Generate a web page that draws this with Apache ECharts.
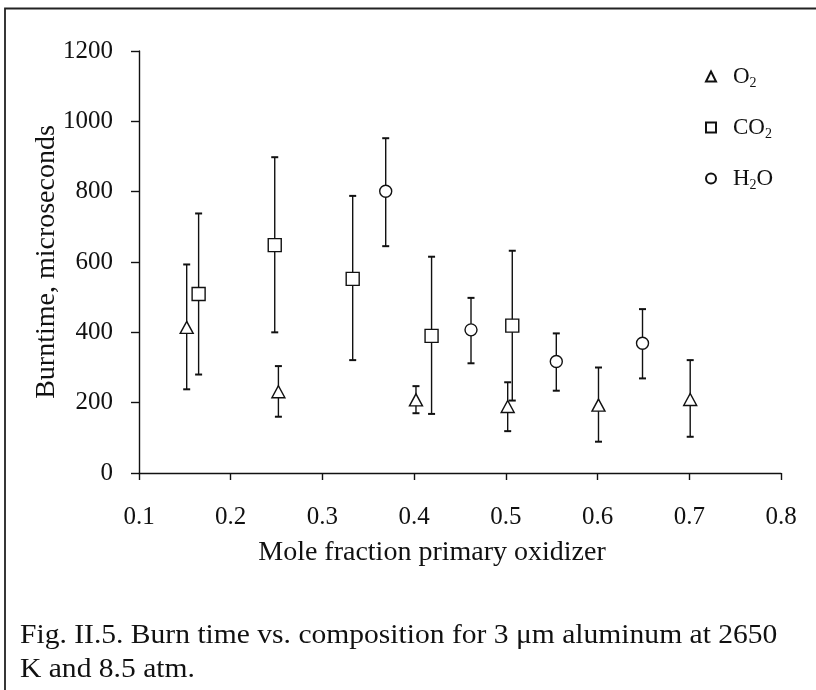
<!DOCTYPE html>
<html>
<head>
<meta charset="utf-8">
<script src="https://cdn.jsdelivr.net/npm/echarts@6/dist/echarts.min.js"></script>
<style>
html,body{margin:0;padding:0;background:#fff;}
#c{width:816px;height:690px;}
</style>
</head>
<body>
<div id="c"></div>
<script>
// ---- data ----
const xTicks = [0.1, 0.2, 0.3, 0.4, 0.5, 0.6, 0.7, 0.8];
const yTicks = [0, 200, 400, 600, 800, 1000, 1200];

const o2X  = [0.152, 0.252, 0.402, 0.502, 0.601, 0.701];
const o2Y  = [414, 231, 208, 189, 193, 209];
const o2Lo = [238, 160, 170, 119, 89, 103];
const o2Hi = [593, 304, 247, 258, 300, 321];

const co2X  = [0.165, 0.248, 0.333, 0.419, 0.507];
const co2Y  = [509, 648, 552, 390, 419];
const co2Lo = [280, 400, 321, 168, 206];
const co2Hi = [738, 898, 788, 615, 632];

const h2oX  = [0.369, 0.462, 0.555, 0.649];
const h2oY  = [801, 407, 317, 369];
const h2oLo = [645, 312, 234, 269];
const h2oHi = [952, 498, 397, 466];

const caption1 = 'Fig. II.5. Burn time vs. composition for 3 \u03bcm aluminum at 2650';
const caption2 = 'K and 8.5 atm.';

// ---- build ----
const FONT = '"Liberation Serif", "DejaVu Serif", serif';
function pts(x, y) { return x.map((v, i) => [v, y[i]]); }
function bars(x, lo, hi) { return x.map((v, i) => [v, lo[i], hi[i]]); }

function errRender(params, api) {
  const x = api.value(0);
  const lo = api.coord([x, api.value(1)]);
  const hi = api.coord([x, api.value(2)]);
  const w = 3.5;
  const st = { stroke: '#111', lineWidth: 1.4 };
  return {
    type: 'group',
    children: [
      { type: 'line', shape: { x1: lo[0], y1: lo[1], x2: hi[0], y2: hi[1] }, style: st },
      { type: 'line', shape: { x1: lo[0] - w, y1: lo[1], x2: lo[0] + w, y2: lo[1] }, style: { stroke: '#111', lineWidth: 2 } },
      { type: 'line', shape: { x1: hi[0] - w, y1: hi[1], x2: hi[0] + w, y2: hi[1] }, style: { stroke: '#111', lineWidth: 2 } }
    ]
  };
}

function errSeries(data) {
  return { type: 'custom', renderItem: errRender, data: data, z: 2, silent: true,
           encode: { x: 0, y: [1, 2] } };
}
function ptSeries(name, data, symbol, size) {
  return { name: name, type: 'scatter', data: data, symbol: symbol, symbolSize: size, z: 5,
           itemStyle: { color: '#fff', borderColor: '#111', borderWidth: 1.4, opacity: 1 } };
}

const chart = echarts.init(document.getElementById('c'), null, { renderer: 'canvas' });
chart.setOption({
  backgroundColor: '#fff',
  animation: false,
  grid: { left: 139, right: 35, top: 51, bottom: 217 },
  xAxis: {
    type: 'value', min: 0.1, max: 0.8, interval: 0.1,
    name: 'Mole fraction primary oxidizer', nameLocation: 'middle', nameGap: 66,
    nameTextStyle: { fontFamily: FONT, fontSize: 28, color: '#111', padding: [0, 56, 0, 0] },
    axisLine: { show: true, lineStyle: { color: '#111', width: 1.4 } },
    axisTick: { show: true, inside: false, length: 7, lineStyle: { color: '#111', width: 1.4 } },
    axisLabel: { fontFamily: FONT, fontSize: 25, color: '#111', margin: 32,
                 formatter: v => xTicks.find(t => Math.abs(t - v) < 1e-6).toFixed(1) },
    splitLine: { show: false }
  },
  yAxis: {
    type: 'value', min: 0, max: 1200, interval: 200,
    name: 'Burntime, microseconds', nameLocation: 'middle', nameGap: 78,
    nameMoveOverlap: false,
    nameTextStyle: { fontFamily: FONT, fontSize: 28, color: '#111' },
    axisLine: { show: true, lineStyle: { color: '#111', width: 1.4 } },
    axisTick: { show: true, inside: false, length: 8, lineStyle: { color: '#111', width: 1.4 } },
    axisLabel: { fontFamily: FONT, fontSize: 25, color: '#111', margin: 26,
                 formatter: v => String(yTicks.find(t => Math.abs(t - v) < 1e-6)) },
    splitLine: { show: false }
  },
  legend: {
    orient: 'vertical', left: 700, top: 58, itemGap: 24, itemWidth: 10, itemHeight: 10,
    data: ['O2', 'CO2', 'H2O'],
    formatter: n => ({ O2: '{a|O}{s|2}', CO2: '{a|CO}{s|2}', H2O: '{a|H}{s|2}{a|O}' })[n],
    textStyle: {
      color: '#111', fontFamily: FONT, fontSize: 22, padding: [0, 0, 0, 12],
      rich: {
        a: { fontFamily: FONT, fontSize: 23, color: '#111', lineHeight: 26 },
        s: { fontFamily: FONT, fontSize: 14, color: '#111', padding: [13, 0, 0, 0], lineHeight: 26 }
      }
    }
  },
  series: [
    errSeries(bars(o2X, o2Lo, o2Hi)),
    errSeries(bars(co2X, co2Lo, co2Hi)),
    errSeries(bars(h2oX, h2oLo, h2oHi)),
    ptSeries('O2', pts(o2X, o2Y), 'triangle', [13, 12]),
    ptSeries('CO2', pts(co2X, co2Y), 'rect', 13),
    ptSeries('H2O', pts(h2oX, h2oY), 'circle', 12)
  ],
  graphic: [
    { type: 'polyline', silent: true, shape: { points: [[5, 700], [5, 8.5], [816, 8.5]] },
      style: { fill: 'none', stroke: '#222', lineWidth: 1.8 } },
    { type: 'text', x: 20, y: 622, scaleX: 1.095, silent: true,
      style: { text: caption1, font: '27px ' + FONT, fill: '#111' } },
    { type: 'text', x: 20, y: 656, scaleX: 1.095, silent: true,
      style: { text: caption2, font: '27px ' + FONT, fill: '#111' } }
  ]
});
</script>
</body>
</html>
